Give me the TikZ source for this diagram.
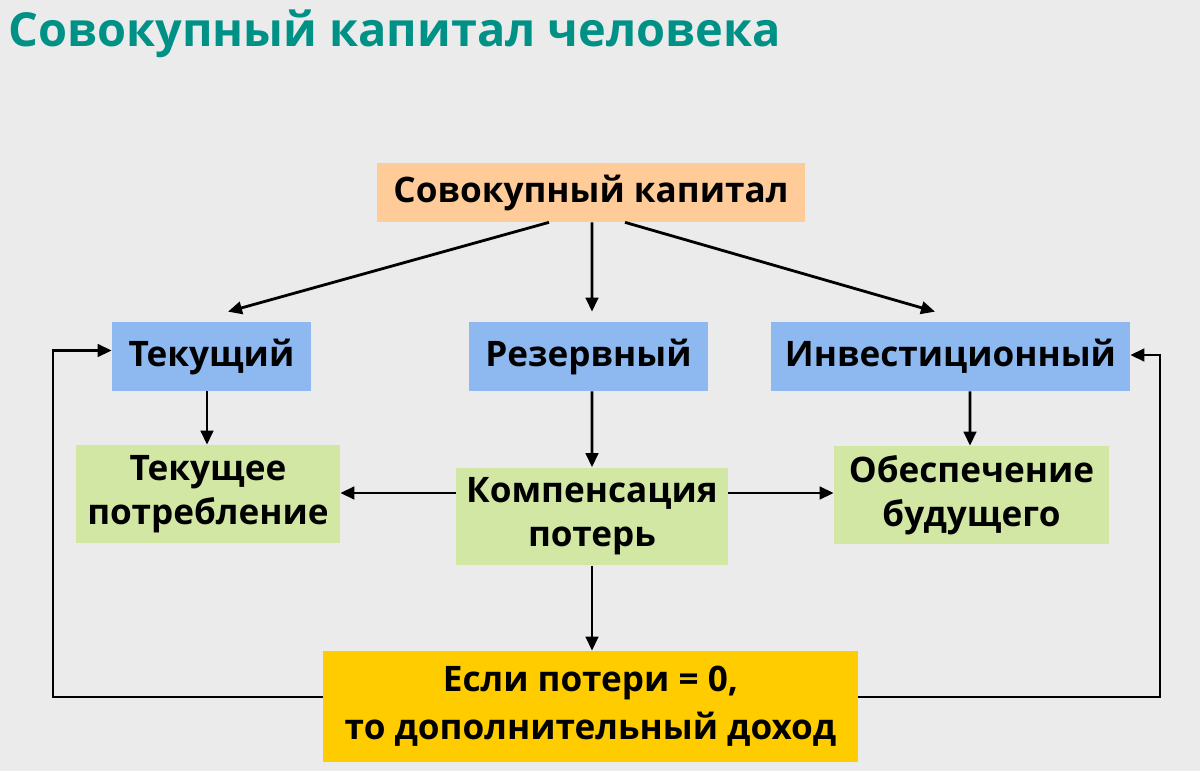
\documentclass[tikz,border=0pt]{standalone}
\usepackage{fontspec}
\setmainfont{Open Sans}
\usetikzlibrary{arrows.meta,positioning,calc}
\definecolor{bgcol}{HTML}{EBEBEB}
\definecolor{teal1}{HTML}{009186}
\definecolor{peach}{HTML}{FFCC99}
\definecolor{skyb}{HTML}{8DB9F0}
\definecolor{lgreen}{HTML}{D3E7A4}
\definecolor{gold}{HTML}{FFCC00}
\tikzset{
  box/.style={inner sep=0pt,align=center,font=\fontsize{20}{25}\selectfont\bfseries},
  total/.style={box,fill=peach,minimum width=8.56cm,minimum height=1.18cm},
  part/.style={box,fill=skyb,minimum height=1.38cm},
  use/.style={box,fill=lgreen,minimum height=1.96cm},
  cond/.style={box,fill=gold,minimum width=10.7cm,minimum height=2.22cm,font=\fontsize{20}{27.5}\selectfont\bfseries},
  arr/.style={-{Triangle[length=2.8mm,width=2.5mm]},line width=1.6pt}
}

\begin{document}
\begin{tikzpicture}[x=0.02cm,y=-0.02cm]
\fill[bgcol] (0,0) rectangle (1200,771);
\useasboundingbox (0,0) rectangle (1200,771);
\node[anchor=base west,text=teal1,font=\fontsize{26.7}{32}\selectfont\bfseries,inner sep=0pt] (title) at (8,46) {Совокупный капитал человека};
\node[total] (tot) at (591,192.5) {Совокупный капитал};
\node[part,minimum width=3.98cm] (tek) at (211.5,356.5) {Текущий};
\node[part,minimum width=4.78cm] (rez) at (588.5,356.5) {Резервный};
\node[part,minimum width=7.18cm] (inv) at (950.5,356.5) {Инвестиционный};
\node[use,minimum width=5.28cm] (potr) at (208,494) {Текущее\\потребление};
\node[use,minimum width=5.44cm] (komp) at (592,516.5) {Компенсация\\потерь};
\node[use,minimum width=5.5cm] (obes) at (971.5,495) {Обеспечение\\будущего};
\node[cond] (esli) at (590.5,706.5) {Если потери = 0,\\то дополнительный доход};
\coordinate (kl) at ($(komp.west)+(0,-23.5)$);
\coordinate (kr) at ($(komp.east)+(0,-23.5)$);
\coordinate (lc) at (53,697);
\coordinate (rc) at (1160,697);
\draw[arr] ($(tot.south)+(-42,0)$) -- ($(tek.north)+(16.5,-10)$);
\draw[arr] ($(tot.south)+(1,0)$) -- ($(rez.north)+(3.5,-10)$);
\draw[arr] ($(tot.south)+(34,0)$) -- ($(inv.north)+(-15.5,-10)$);
\draw[arr] ($(tek.south)+(-4.5,0)$) -- ($(potr.north)+(-1,0)$);
\draw[arr] ($(rez.south)+(3.5,0)$) -- (komp.north);
\draw[arr] ($(inv.south)+(19.5,0)$) -- ($(obes.north)+(-1.5,0)$);
\draw[arr] (kl) -- (kl -| potr.east);
\draw[arr] (kr) -- (kr -| obes.west);
\draw[arr] (komp.south) -- (komp.south |- esli.north);
\draw[arr] (esli.west |- lc) -- (lc) |- ($(tek.west)+(0,-6)$);
\draw[arr] (esli.east |- rc) -- (rc) |- ($(inv.east)+(0,-1.5)$);
\end{tikzpicture}
\end{document}
